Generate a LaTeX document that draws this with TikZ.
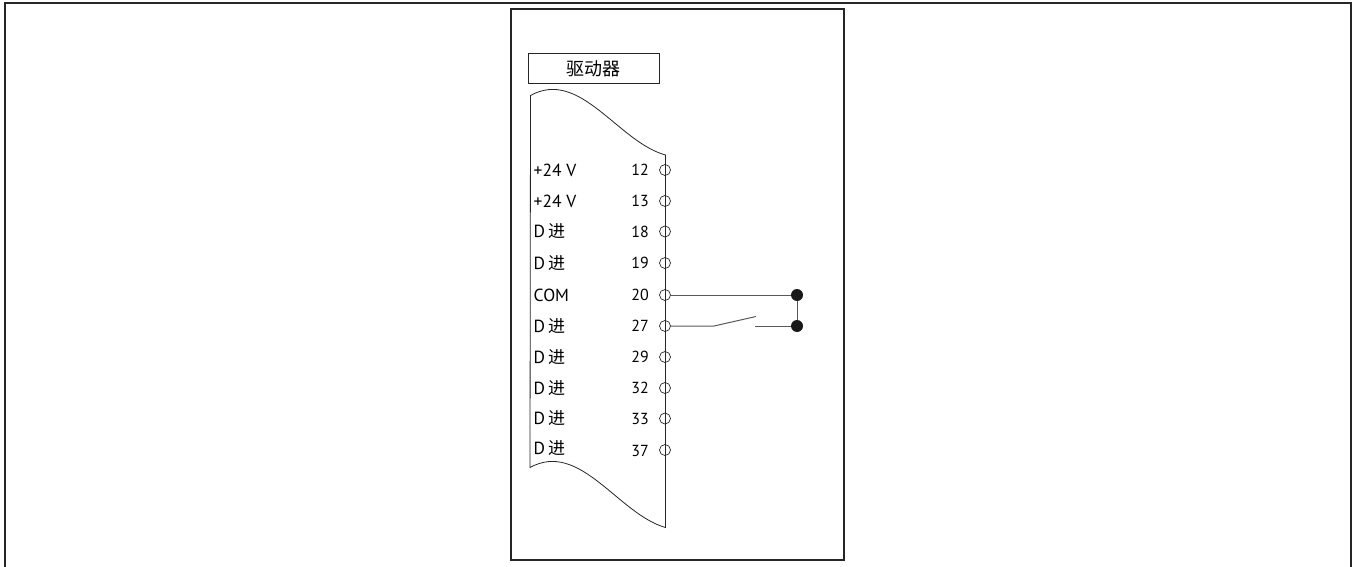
\documentclass[tikz,border=0pt]{standalone}
\usepackage{fontspec}
\setmainfont{PT Sans}
\newfontfamily\cjk{Noto Sans CJK SC}
\tikzset{
  x=1pt,y=-1pt,
  frame/.style={draw=black!85,line width=2pt},
  wire/.style={draw=black!65,line width=1pt},
  term/.style={circle,draw=black!85,fill=none,line width=0.7pt,minimum size=11pt,inner sep=0pt},
  dot/.style={circle,fill=black!90,draw=none,minimum size=12pt,inner sep=0pt},
  lab/.style={anchor=west,inner sep=0pt,font=\fontsize{17.5}{18}\selectfont},
  num/.style={anchor=east,inner sep=0pt,font=\fontsize{16}{16}\selectfont}
}
\newcommand{\djin}{D\hspace{3pt}{\cjk\fontsize{17}{18}\selectfont 进}}
\begin{document}
\begin{tikzpicture}
\useasboundingbox (0,0) rectangle (1357,567);
\draw[frame] (5,567) -- (5,3.5) -- (1351,3.5) -- (1351,567);
\draw[frame] (511,9.5) rectangle (844,559.5);
\node[draw=black!85,line width=0.8pt,minimum width=131pt,minimum height=30pt,inner sep=0pt,font=\cjk\fontsize{18}{18}\selectfont] (title) at (593.5,68.5) {驱动器};
\draw[black!85,line width=0.8pt] (530.5,95.5) .. controls (580,68) and (618,142) .. (665.5,155) -- (665.5,527.5)
  .. controls (618,514) and (580,440) .. (530,467.5) -- cycle;
\foreach \n/\y/\t/\ty in {a/170/12/170,b/201/13/201,c/231.5/18/231.5,d/263/19/263,e/295/20/295,f/326/27/326,g/357/29/357,h/388/32/388,i/418.5/33/419,j/450/37/451}
  {\node[term] (t\n) at (665,\y) {}; \node[num] (n\n) at (649,\ty) {\t};}
\node[lab] (la) at (533.5,170) {+24 V};
\node[lab] (lb) at (533.5,201) {+24 V};
\node[lab] (lc) at (533.5,231.5) {\djin};
\node[lab] (ld) at (533.5,263) {\djin};
\node[lab] (le) at (533.5,295) {COM};
\node[lab] (lf) at (533.5,326) {\djin};
\node[lab] (lg) at (533.5,357) {\djin};
\node[lab] (lh) at (533.5,388) {\djin};
\node[lab] (li) at (533.5,418) {\djin};
\node[lab] (lj) at (533.5,448) {\djin};
\node[dot] (d1) at (797,295) {};
\node[dot] (d2) at (797,326) {};
\coordinate (s1) at (714,326);
\coordinate (s2) at (756,316.5);
\coordinate (s3) at (755,326);
\draw[wire] (te) -- (d1);
\draw[wire] (d1) -- (d2);
\draw[wire] (tf) -- (s1) -- (s2);
\draw[wire] (s3) -- (d2);
\end{tikzpicture}
\end{document}
